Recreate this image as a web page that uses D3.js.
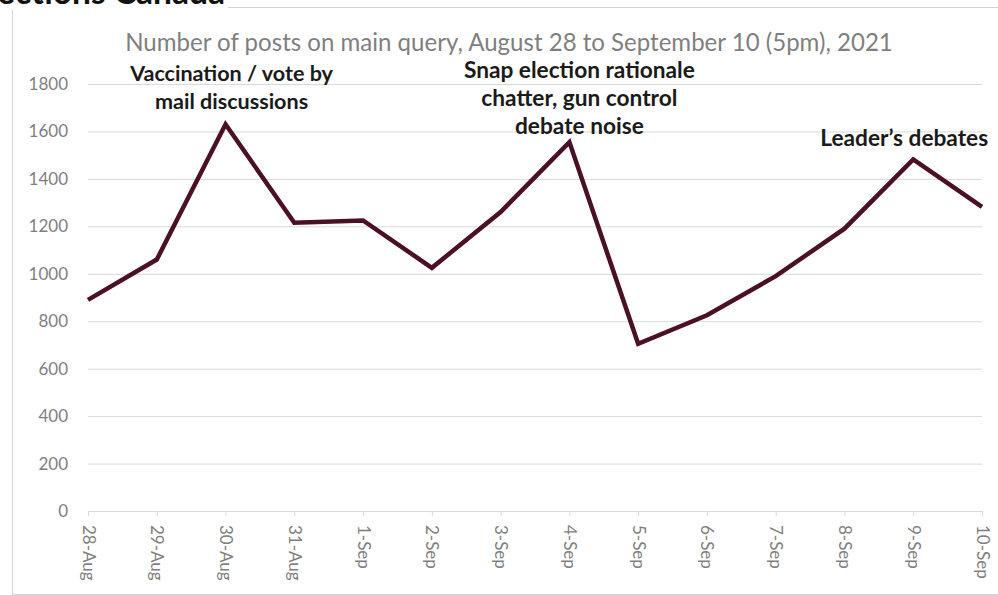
<!DOCTYPE html>
<html>
<head>
<meta charset="utf-8">
<script src="https://cdn.jsdelivr.net/npm/d3@7"></script>
<style>
  body { margin: 0; background: #fff; }
  svg { display: block; font-family: Lato, 'Open Sans', sans-serif; }
</style>
</head>
<body>
<svg id="chart" width="998" height="595"></svg>
<script>
// data
let days = ['28-Aug', '29-Aug', '30-Aug', '31-Aug', '1-Sep', '2-Sep', '3-Sep',
            '4-Sep', '5-Sep', '6-Sep', '7-Sep', '8-Sep', '9-Sep', '10-Sep'];
let posts = [890, 1060, 1630, 1215, 1225, 1025, 1260,
             1555, 705, 825, 990, 1190, 1482, 1282];
let yTicks = [0, 200, 400, 600, 800, 1000, 1200, 1400, 1600, 1800];

let chartTitle = 'Number of posts on main query, August 28 to September 10 (5pm), 2021';
let pageTitle = 'ections Canada';
let annoDays = ['30-Aug', '4-Sep', '9-Sep'];
let annoLines = [
  ['Vaccination / vote by', 'mail discussions'],
  ['Snap election rationale', 'chatter, gun control', 'debate noise'],
  ['Leader\u2019s debates']
];

let plotLeft = 88, plotRight = 982, plotTop = 84, plotBottom = 511;
let svg = d3.select('#chart');

// fit a text element to a target width by adjusting font size
function fitText(sel, width) {
  let w = sel.node().getComputedTextLength();
  let fs = parseFloat(sel.style('font-size'));
  let nfs = fs * width / w;
  sel.style('font-size', nfs + 'px');
  return nfs;
}

// outer frame of the pasted chart
svg.append('rect')
  .attr('x', 12.5).attr('y', 7.5)
  .attr('width', 1000).attr('height', 587)
  .attr('fill', 'none')
  .attr('stroke', '#d4d4d4');

// white box behind the page title so the frame line stops there
svg.append('rect')
  .attr('x', 0).attr('y', 0).attr('width', 228).attr('height', 10)
  .attr('fill', '#fff');

// page heading, cut by the top edge as in the screenshot
let pt = svg.append('text')
  .text(pageTitle)
  .attr('x', 225).attr('y', 4)
  .attr('text-anchor', 'end')
  .attr('font-weight', 'bold')
  .attr('fill', '#111')
  .style('font-size', '29px');
fitText(pt, 228);

let x = d3.scalePoint().domain(days).range([plotLeft, plotRight]);
let y = d3.scaleLinear().domain([0, 1800]).range([plotBottom, plotTop]);

// horizontal gridlines + y labels
let gY = svg.append('g')
  .attr('transform', `translate(${plotLeft},0)`)
  .call(d3.axisLeft(y).tickValues(yTicks).tickFormat(d3.format('d'))
    .tickSize(-(plotRight - plotLeft)).tickPadding(20));
gY.select('.domain').remove();
gY.selectAll('.tick line').attr('stroke', '#d9d9d9');
gY.selectAll('.tick text')
  .attr('fill', '#7f7f7f')
  .style('font-size', '17px')
  .style('font-family', 'Lato, sans-serif');

// vertical gridlines + rotated date labels
let gX = svg.append('g')
  .attr('transform', `translate(0,${plotBottom})`)
  .call(d3.axisBottom(x).tickSize(-(plotBottom - plotTop)));
gX.select('.domain').remove();
gX.selectAll('.tick line').attr('stroke', '#d9d9d9').attr('y2', 5);
gX.selectAll('.tick text')
  .attr('transform', 'rotate(90)')
  .attr('x', 14).attr('y', 0).attr('dy', '0.35em')
  .attr('text-anchor', 'start')
  .attr('fill', '#7f7f7f')
  .style('font-size', '17px')
  .style('font-family', 'Lato, sans-serif');

// chart title
let ct = svg.append('text')
  .text(chartTitle)
  .attr('x', 509).attr('y', 43)
  .attr('dy', '0.35em')
  .attr('text-anchor', 'middle')
  .attr('fill', '#7f7f7f')
  .style('font-size', '20px');
fitText(ct, 768);

// the series
let line = d3.line()
  .x(function (d, i) { return x(days[i]); })
  .y(function (d) { return y(d); });

svg.append('path')
  .datum(posts)
  .attr('d', line)
  .attr('fill', 'none')
  .attr('stroke', '#4b0f26')
  .attr('stroke-width', 4.5)
  .attr('stroke-linejoin', 'miter');

// annotations
let annoDx = [6, 10, -9];
let annoY = [73, 70, 138];
let annoW = [203, 231, 168];   // width of the first line of each note
for (let a = 0; a < annoDays.length; a++) {
  let fs = 18;
  annoLines[a].forEach(function (t, k) {
    let el = svg.append('text')
      .text(t)
      .attr('x', x(annoDays[a]) + annoDx[a])
      .attr('y', annoY[a] + k * 28)
      .attr('dy', '0.35em')
      .attr('text-anchor', 'middle')
      .attr('font-weight', 'bold')
      .attr('fill', '#1a1a1a')
      .style('font-size', fs + 'px');
    if (k == 0) {
      fs = fitText(el, annoW[a]);
    }
  });
}
</script>
</body>
</html>
